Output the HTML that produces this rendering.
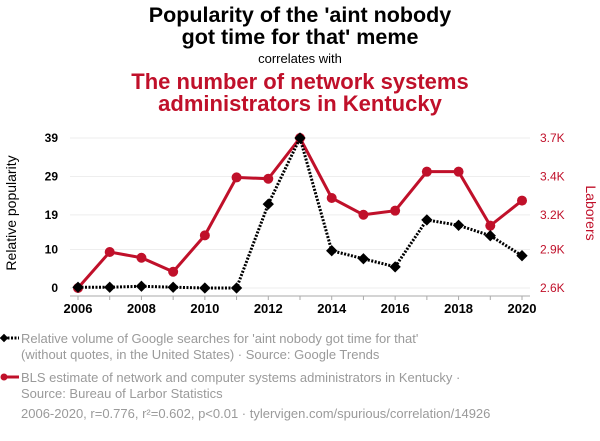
<!DOCTYPE html>
<html><head><meta charset="utf-8"><style>
body{margin:0;background:#fff;width:600px;height:436px;overflow:hidden;font-family:"Liberation Sans",sans-serif}
</style></head><body>
<svg width="600" height="436" font-family="Liberation Sans, sans-serif">
<text x="300" y="22" text-anchor="middle" font-size="21.5" font-weight="bold">Popularity of the 'aint nobody</text>
<text x="300" y="44" text-anchor="middle" font-size="21.5" font-weight="bold">got time for that' meme</text>
<text x="300" y="63" text-anchor="middle" font-size="13">correlates with</text>
<text x="300" y="89" text-anchor="middle" font-size="22" font-weight="bold" fill="#c0102a">The number of network systems</text>
<text x="300" y="111" text-anchor="middle" font-size="22" font-weight="bold" fill="#c0102a">administrators in Kentucky</text>
<g id="grid"></g><g id="axes"></g><g id="series"></g>
<text transform="translate(16,213) rotate(-90)" text-anchor="middle" font-size="14">Relative popularity</text>
<text transform="translate(586,213) rotate(90)" text-anchor="middle" font-size="14" fill="#c0102a">Laborers</text>
<g>
<line x1="4" y1="338" x2="19" y2="338" stroke="#000" stroke-width="3" stroke-dasharray="2,1.5"/>
<rect x="1" y="335" width="6" height="6" transform="rotate(45 4 338)" fill="#000"/>
<text x="21" y="343" font-size="13" fill="#9a9a9a">Relative volume of Google searches for 'aint nobody got time for that'</text>
<text x="21" y="359" font-size="13" fill="#9a9a9a">(without quotes, in the United States) · Source: Google Trends</text>
</g>
<g>
<line x1="4" y1="377" x2="19" y2="377" stroke="#c0102a" stroke-width="3"/>
<circle cx="4" cy="377" r="3.5" fill="#c0102a"/>
<text x="21" y="382" font-size="13" fill="#9a9a9a">BLS estimate of network and computer systems administrators in Kentucky ·</text>
<text x="21" y="398" font-size="13" fill="#9a9a9a">Source: Bureau of Larbor Statistics</text>
</g>
<text x="21" y="418" font-size="13" fill="#9a9a9a">2006-2020, r=0.776, r²=0.602, p&lt;0.01 · tylervigen.com/spurious/correlation/14926</text>
</svg>
<script>
const years=[2006,2007,2008,2009,2010,2011,2012,2013,2014,2015,2016,2017,2018,2019,2020];
const googleValues=[0.2,0.2,0.45,0.2,0,0,21.8,39,9.7,7.6,5.5,17.7,16.3,13.6,8.4];
const blsValues=[2600,2864,2822,2719,2986,3411,3401,3700,3260,3137,3167,3453,3453,3057,3241];
const leftTicks=[0,10,19,29,39];
const rightTickLabels=["2.6K","2.9K","3.2K","3.4K","3.7K"];
const xTickYears=[2006,2008,2010,2012,2014,2016,2018,2020];
const NS="http://www.w3.org/2000/svg";
const x=v=>78+(v-2006)*(444/14);
const yL=v=>288-v*(150/39);
const yR=v=>288-(v-2600)*(150/1100);
function mk(t,a,p){const e=document.createElementNS(NS,t);for(const k in a)e.setAttribute(k,a[k]);if(p)document.getElementById(p).appendChild(e);return e;}
leftTicks.forEach((t,i)=>{
 const g=mk('line',{x1:70,x2:530,y1:yL(t),y2:yL(t),stroke:'#eee','stroke-width':1},'grid');
 
 
 const l=mk('text',{x:58,y:yL(t)+4,'text-anchor':'end','font-size':12,'font-weight':'bold'},'axes');l.textContent=t;
 
 
 const r=mk('text',{x:540,y:yL(t)+4,'font-size':12,fill:'#c0102a'},'axes');r.textContent=rightTickLabels[i];
 
 
});
const ax=mk('line',{x1:70,x2:530,y1:296,y2:296,stroke:'#aaa'},'axes');


years.forEach(yr=>{mk('line',{x1:x(yr),x2:x(yr),y1:296,y2:300,stroke:'#aaa'},'axes');});
xTickYears.forEach(yr=>{const t=mk('text',{x:x(yr),y:313,'text-anchor':'middle','font-size':13,'font-weight':'bold'},'axes');t.textContent=yr;
 
 });
const rp=mk('polyline',{points:years.map((yr,i)=>x(yr)+','+yR(blsValues[i])).join(' '),fill:'none',stroke:'#c0102a','stroke-width':3},'series');


years.forEach((yr,i)=>{const c=mk('circle',{cx:x(yr),cy:yR(blsValues[i]),r:5,fill:'#c0102a'},'series');
 
 });
const bp=mk('polyline',{points:years.map((yr,i)=>x(yr)+','+yL(googleValues[i])).join(' '),fill:'none',stroke:'#000','stroke-width':3,'stroke-dasharray':'2,1.5'},'series');


years.forEach((yr,i)=>{const cx=x(yr),cy=yL(googleValues[i]);const d=mk('rect',{x:cx-4,y:cy-4,width:8,height:8,transform:`rotate(45 ${cx} ${cy})`,fill:'#000'},'series');
 
 });
</script>
</body></html>
